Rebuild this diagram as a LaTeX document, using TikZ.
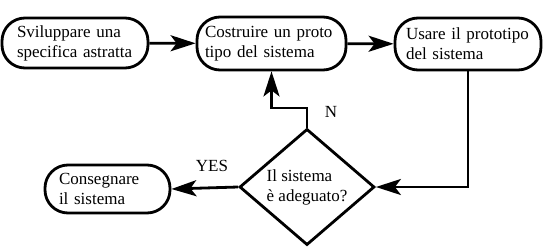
\documentclass[tikz,border=0pt]{standalone}
\usepackage{fontspec}
\setmainfont{Liberation Serif}
\usetikzlibrary{arrows.meta,shapes.geometric}

\newcommand\stepfont{\fontsize{17}{20}\selectfont\hyphenpenalty=10000\relax}

\tikzset{
  stage/.style={draw, line width=2.8pt, rounded corners=23pt, inner sep=0pt,
                align=left, font=\stepfont},
  decision/.style={draw, diamond, line width=2.8pt, inner sep=0pt,
                   minimum width=135pt, minimum height=98pt,
                   align=left, font=\stepfont},
  flow/.style={line width=2.8pt, -{Stealth[length=25pt,width=16pt,inset=6pt]}},
  tag/.style={font=\stepfont, inner sep=0pt}
}

\begin{document}
\begin{tikzpicture}[x=1pt,y=-1pt]
  \useasboundingbox[fill=white] (0,0) rectangle (556,246);

  % process steps
  \node[stage, minimum width=146pt, minimum height=50pt, text width=116pt]
    (spec) at (75,43) {Sviluppare una\\specifica astratta};
  \node[stage, minimum width=149pt, minimum height=53pt, text width=133pt]
    (build) at (271.5,43.5) {Costruire un proto\\tipo del sistema};
  \node[stage, minimum width=146pt, minimum height=52pt, text width=124pt]
    (use) at (468,44) {Usare il prototipo\\del sistema};
  \node[decision] (check) at (307,187) {Il sistema\\è adeguato?};
  \node[stage, minimum width=125pt, minimum height=48pt, text width=97pt]
    (deliver) at (107.5,189) {Consegnare\\il sistema};

  % connectors
  \draw[flow] (spec) -- (build);
  \draw[flow] (build) -- (use);
  \draw[flow] (use.south) |- (check.east);
  \coordinate (loop) at (307,108);
  \draw[flow] (check.north) -- (loop) -| (build.south);
  \draw[flow] (check.west) -- (deliver.east);

  % branch labels
  \node[tag] (no) at (331,112) {N};
  \node[tag] (yes) at (212,166) {YES};
\end{tikzpicture}
\end{document}
